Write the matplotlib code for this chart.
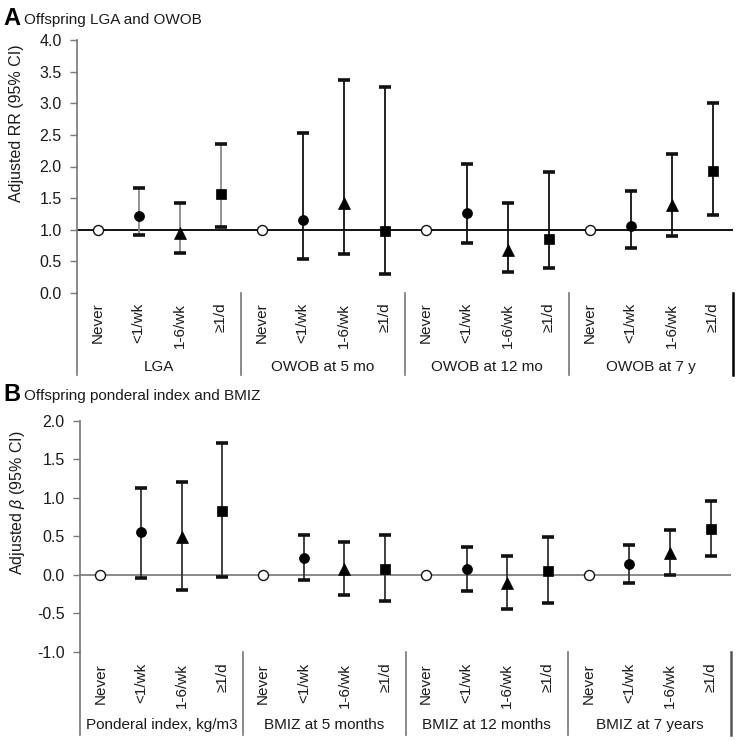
import matplotlib
matplotlib.use('Agg')
import matplotlib.pyplot as plt
import numpy as np

plt.rcParams['font.family'] = ['Liberation Sans', 'DejaVu Sans']
plt.rcParams['mathtext.fontset'] = 'custom'
plt.rcParams['mathtext.it'] = 'Liberation Sans:italic'
plt.rcParams['mathtext.rm'] = 'Liberation Sans'

categories = ['Never', '<1/wk', '1-6/wk', '≥1/d']

groups_a = ['LGA', 'OWOB at 5 mo', 'OWOB at 12 mo', 'OWOB at 7 y']
est_a = [1.0, 1.22, 0.95, 1.57,
         1.0, 1.16, 1.42, 0.98,
         1.0, 1.27, 0.68, 0.86,
         1.0, 1.06, 1.39, 1.93]
lo_a = [None, 0.91, 0.64, 1.04,
        None, 0.54, 0.62, 0.30,
        None, 0.79, 0.33, 0.39,
        None, 0.71, 0.90, 1.23]
hi_a = [None, 1.66, 1.42, 2.35,
        None, 2.53, 3.36, 3.26,
        None, 2.04, 1.43, 1.91,
        None, 1.61, 2.19, 3.01]

groups_b = ['Ponderal index, kg/m3', 'BMIZ at 5 months', 'BMIZ at 12 months', 'BMIZ at 7 years']
est_b = [0.0, 0.55, 0.49, 0.83,
         0.0, 0.22, 0.075, 0.08,
         0.0, 0.07, -0.11, 0.05,
         0.0, 0.14, 0.28, 0.59]
lo_b = [None, -0.04, -0.20, -0.03,
        None, -0.07, -0.26, -0.34,
        None, -0.21, -0.44, -0.37,
        None, -0.11, 0.00, 0.24]
hi_b = [None, 1.13, 1.21, 1.71,
        None, 0.52, 0.43, 0.51,
        None, 0.36, 0.24, 0.49,
        None, 0.39, 0.58, 0.96]

markers = ['o', 'o', '^', 's']
msizes = [7.2, 7.2, 8.3, 7.2]
txtcol = '#1a1a1a'

fig = plt.figure(figsize=(7.4, 7.41), dpi=100)
W, H = 740.0, 741.0


def make_panel(rect, est, lo, hi, groups, ylim, yticks, ref, refcol, ylabel,
               ecols, label_y, sep_len, group_y, ylab_ypos, lastsep_col):
    ax = fig.add_axes(rect)
    n = len(est)
    xs = np.arange(n)
    ax.set_xlim(-0.5, n - 0.5)
    ax.set_ylim(*ylim)
    ax.axhline(ref, color=refcol, lw=1.3, zorder=1)
    for i in range(n):
        k = i % 4
        g = i // 4
        if lo[i] is not None:
            _, caps, _ = ax.errorbar([xs[i]], [est[i]],
                                     yerr=[[est[i] - lo[i]], [hi[i] - est[i]]],
                                     fmt='none', ecolor=ecols[g], elinewidth=1.3,
                                     capsize=4.3, capthick=2.6, zorder=2)
            for c in caps:
                c.set_markeredgecolor('#111111')
                c.set_markerfacecolor('#111111')
                c.set_zorder(3)
        if k == 0:
            ax.plot(xs[i], est[i], marker='o', ms=msizes[k], mfc='white',
                    mec='#111111', mew=1.0, ls='none', zorder=4)
        else:
            ax.plot(xs[i], est[i], marker=markers[k], ms=msizes[k], mfc='black',
                    mec='black', mew=0.5, ls='none', zorder=4)
    for s in ['top', 'right', 'bottom']:
        ax.spines[s].set_visible(False)
    ax.spines['left'].set_color('#777777')
    ax.spines['left'].set_linewidth(1.2)
    ax.set_yticks(yticks)
    ax.set_yticklabels([f'{v:.1f}' for v in yticks])
    ax.tick_params(axis='y', length=5, width=1.0, color='#777777',
                   labelsize=11.5, labelcolor=txtcol, pad=6)
    ax.set_xticks(xs)
    ax.set_xticklabels(categories * 4, rotation=90, fontsize=11,
                       color=txtcol)
    ax.tick_params(axis='x', length=0, pad=label_y)
    for lbl in ax.get_xticklabels():
        lbl.set_va('top')
        lbl.set_ha('center')
    for j in range(5):
        xb = -0.5 + 4 * j
        col = '#777777'
        lw = 1.2
        if j == 4:
            col = lastsep_col
            lw = 1.8
        ax.plot([xb, xb], [0, -sep_len], transform=ax.get_xaxis_transform(),
                color=col, lw=lw, clip_on=False, zorder=1)
    for j, gname in enumerate(groups):
        ax.text(1.5 + 4 * j, group_y, gname, transform=ax.get_xaxis_transform(),
                ha='center', va='center', fontsize=11, color=txtcol)
    ax.set_ylabel(ylabel, fontsize=11.5, color=txtcol)
    ax.yaxis.set_label_coords(-0.081, ylab_ypos)
    return ax


axA = make_panel([77 / W, 1 - 293 / H, 656 / W, 253 / H], est_a, lo_a, hi_a,
                 groups_a, (0, 4), np.arange(0, 4.01, 0.5), 1.0, 'black',
                 'Adjusted RR (95% CI)', ['#8a8a8a', '#111111', '#111111', '#111111'],
                 7, 0.325, -0.293, 0.67, 'black')

axB = make_panel([80 / W, 1 - 651.7 / H, 651 / W, 231 / H], est_b, lo_b, hi_b,
                 groups_b, (-1, 2), np.arange(-1, 2.01, 0.5), 0.0, '#808080',
                 r'Adjusted $\beta$ (95% CI)', ['#333333'] * 4,
                 8, 0.36, -0.317, 0.644, '#555555')

fig.text(3 / W, 1 - 25 / H, 'A', fontsize=17, fontweight='bold', color='black',
         va='baseline', ha='left')
fig.text(24 / W, 1 - 24 / H, 'Offspring LGA and OWOB', fontsize=11, color=txtcol,
         va='baseline', ha='left')
fig.text(3 / W, 1 - 401 / H, 'B', fontsize=17, fontweight='bold', color='black',
         va='baseline', ha='left')
fig.text(24 / W, 1 - 400 / H, 'Offspring ponderal index and BMIZ', fontsize=11,
         color=txtcol, va='baseline', ha='left')

fig.savefig('out.png', dpi=100, facecolor='white')
